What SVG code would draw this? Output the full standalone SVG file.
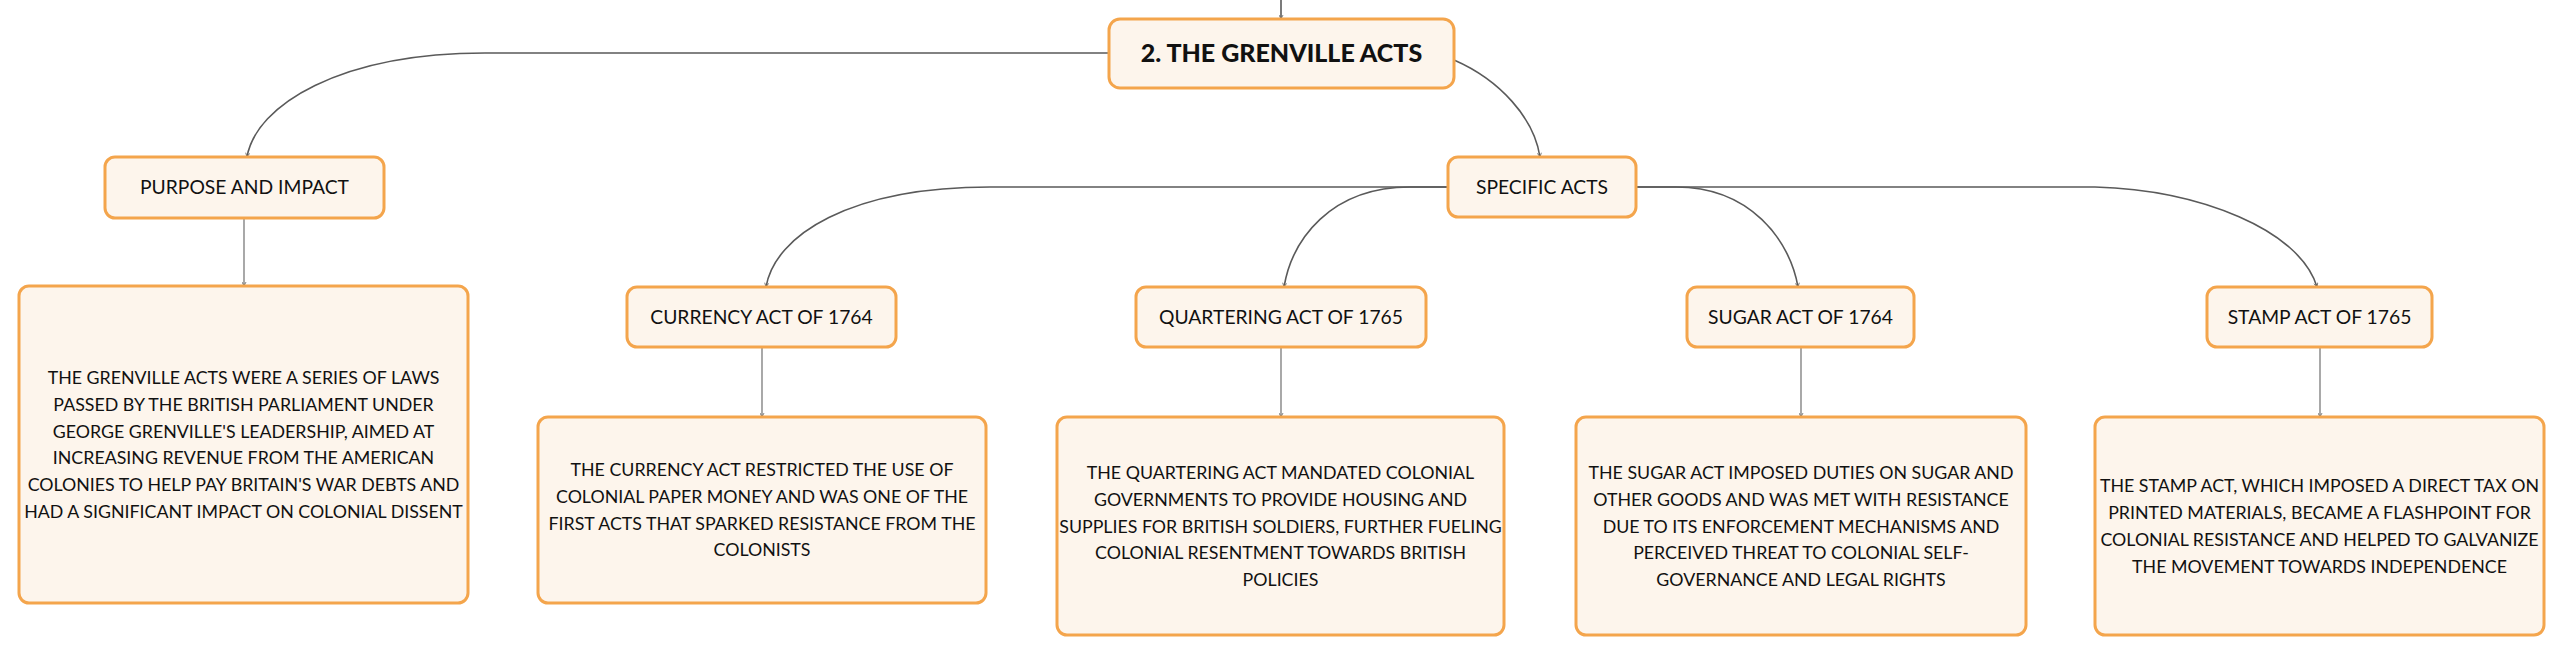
<svg xmlns="http://www.w3.org/2000/svg" width="2565" height="656" viewBox="0 0 2565 656">
<style>
.box{fill:#fdf5ec;stroke:#f4a54c;stroke-width:3}
.t{font-family:Lato,"Noto Sans","Liberation Sans",sans-serif;fill:#111111;text-anchor:middle}
.title{font-size:19.3px}
.body{font-size:17.8px}
.root{font-size:25px;font-weight:900}
.c{fill:none;stroke:#5a5a5a;stroke-width:1.6;marker-end:url(#ah)}
.v{fill:none;stroke:#7a7a7a;stroke-width:1.3;marker-end:url(#ah)}
</style>
<defs>
<marker id="ah" viewBox="0 0 10 10" refX="9" refY="5" markerWidth="5" markerHeight="5" orient="auto" markerUnits="userSpaceOnUse">
<path d="M1 1 L9 5 L1 9" fill="none" stroke="#5a5a5a" stroke-width="1.5"/>
</marker>
</defs>
<rect width="2565" height="656" fill="#ffffff"/>
<g id="connectors">
<path class="c" d="M1281 0 L1281 19"/>
<path class="c" d="M1109 53 L485 53 C340 53 256 105 247 157"/>
<path class="c" d="M1454 60 C1500 80 1534 118 1540 157"/>
<path class="c" d="M1448 187 L990 187 C850 187 775 235 766 287"/>
<path class="c" d="M1448 187 L1410 187 C1330 187 1292 240 1284 287"/>
<path class="c" d="M1636 187 L1676 187 C1750 187 1790 240 1798 287"/>
<path class="c" d="M1636 187 L2095 187 C2200 190 2300 230 2317 287"/>
<path class="v" d="M244 218 L244 286"/>
<path class="v" d="M762 347 L762 417"/>
<path class="v" d="M1281 347 L1281 417"/>
<path class="v" d="M1801 347 L1801 417"/>
<path class="v" d="M2320 347 L2320 417"/>
</g>
<g id="root">
<rect class="box" x="1109" y="19" width="345" height="69" rx="11"/>
<text class="t root" x="1281.5" y="62">2. THE GRENVILLE ACTS</text>
</g>
<g id="purpose">
<rect class="box" x="105" y="157" width="279" height="61" rx="10"/>
<text class="t title" x="244.5" y="194">PURPOSE AND IMPACT</text>
</g>
<g id="purpose-body">
<rect class="box" x="19" y="286" width="449" height="317" rx="10"/>
<text class="t body" x="243.5" y="384">THE GRENVILLE ACTS WERE A SERIES OF LAWS</text>
<text class="t body" x="243.5" y="411">PASSED BY THE BRITISH PARLIAMENT UNDER</text>
<text class="t body" x="243.5" y="438">GEORGE GRENVILLE'S LEADERSHIP, AIMED AT</text>
<text class="t body" x="243.5" y="464">INCREASING REVENUE FROM THE AMERICAN</text>
<text class="t body" x="243.5" y="491">COLONIES TO HELP PAY BRITAIN'S WAR DEBTS AND</text>
<text class="t body" x="243.5" y="518">HAD A SIGNIFICANT IMPACT ON COLONIAL DISSENT</text>
</g>
<g id="specific">
<rect class="box" x="1448" y="157" width="188" height="60" rx="10"/>
<text class="t title" x="1542" y="194">SPECIFIC ACTS</text>
</g>
<g id="currency">
<rect class="box" x="627" y="287" width="269" height="60" rx="10"/>
<text class="t title" x="761.5" y="324">CURRENCY ACT OF 1764</text>
</g>
<g id="currency-body">
<rect class="box" x="538" y="417" width="448" height="186" rx="10"/>
<text class="t body" x="762" y="476">THE CURRENCY ACT RESTRICTED THE USE OF</text>
<text class="t body" x="762" y="503">COLONIAL PAPER MONEY AND WAS ONE OF THE</text>
<text class="t body" x="762" y="530">FIRST ACTS THAT SPARKED RESISTANCE FROM THE</text>
<text class="t body" x="762" y="556">COLONISTS</text>
</g>
<g id="quartering">
<rect class="box" x="1136" y="287" width="290" height="60" rx="10"/>
<text class="t title" x="1281" y="324">QUARTERING ACT OF 1765</text>
</g>
<g id="quartering-body">
<rect class="box" x="1057" y="417" width="447" height="218" rx="10"/>
<text class="t body" x="1280.5" y="479">THE QUARTERING ACT MANDATED COLONIAL</text>
<text class="t body" x="1280.5" y="506">GOVERNMENTS TO PROVIDE HOUSING AND</text>
<text class="t body" x="1280.5" y="533">SUPPLIES FOR BRITISH SOLDIERS, FURTHER FUELING</text>
<text class="t body" x="1280.5" y="559">COLONIAL RESENTMENT TOWARDS BRITISH</text>
<text class="t body" x="1280.5" y="586">POLICIES</text>
</g>
<g id="sugar">
<rect class="box" x="1687" y="287" width="227" height="60" rx="10"/>
<text class="t title" x="1800.5" y="324">SUGAR ACT OF 1764</text>
</g>
<g id="sugar-body">
<rect class="box" x="1576" y="417" width="450" height="218" rx="10"/>
<text class="t body" x="1801" y="479">THE SUGAR ACT IMPOSED DUTIES ON SUGAR AND</text>
<text class="t body" x="1801" y="506">OTHER GOODS AND WAS MET WITH RESISTANCE</text>
<text class="t body" x="1801" y="533">DUE TO ITS ENFORCEMENT MECHANISMS AND</text>
<text class="t body" x="1801" y="559">PERCEIVED THREAT TO COLONIAL SELF-</text>
<text class="t body" x="1801" y="586">GOVERNANCE AND LEGAL RIGHTS</text>
</g>
<g id="stamp">
<rect class="box" x="2207" y="287" width="225" height="60" rx="10"/>
<text class="t title" x="2319.5" y="324">STAMP ACT OF 1765</text>
</g>
<g id="stamp-body">
<rect class="box" x="2095" y="417" width="449" height="218" rx="10"/>
<text class="t body" x="2319.5" y="492">THE STAMP ACT, WHICH IMPOSED A DIRECT TAX ON</text>
<text class="t body" x="2319.5" y="519">PRINTED MATERIALS, BECAME A FLASHPOINT FOR</text>
<text class="t body" x="2319.5" y="546">COLONIAL RESISTANCE AND HELPED TO GALVANIZE</text>
<text class="t body" x="2319.5" y="573">THE MOVEMENT TOWARDS INDEPENDENCE</text>
</g>
</svg>
